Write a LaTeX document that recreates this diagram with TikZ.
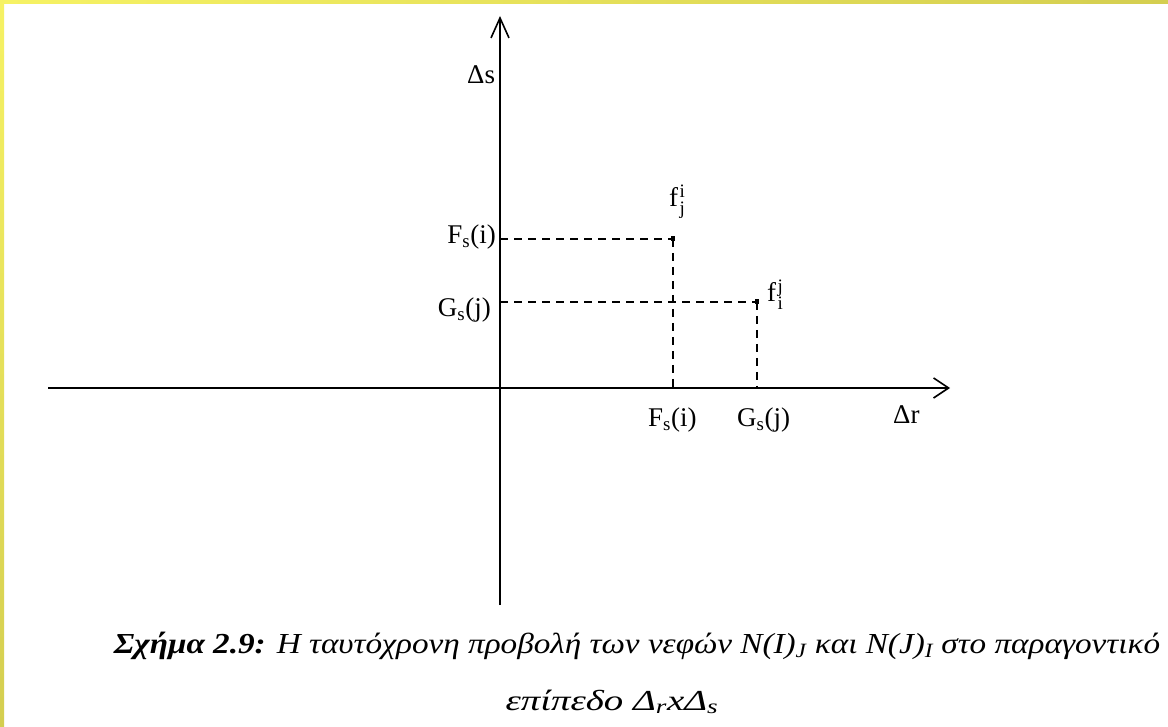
\documentclass[tikz,border=0pt]{standalone}
\usepackage{fontspec}
\setmainfont{Liberation Serif}
\usetikzlibrary{arrows.meta}
\definecolor{stripA}{RGB}{246,242,100}
\definecolor{stripB}{RGB}{212,206,80}
\newcommand{\supsub}[2]{\kern1.5pt\rlap{\raisebox{9pt}{\fontsize{19}{19}\selectfont #1}}\raisebox{-8pt}{\fontsize{19}{19}\selectfont #2}}
\begin{document}
\begin{tikzpicture}[x=1pt,y=-1pt,
  axisv/.style={line width=1.6pt,-{Straight Barb[length=20pt,width=18pt,line width=1.6pt]}},
  axish/.style={line width=1.6pt,-{Straight Barb[length=15pt,width=20pt,line width=1.6pt]}},
  proj/.style={line width=1.6pt,dash pattern=on 8pt off 6pt},
  lbl/.style={font=\fontsize{27}{30}\selectfont,inner sep=0pt},
  dot/.style={fill=black,inner sep=0pt,minimum width=3.5pt,minimum height=5pt,shape=rectangle},
  captxt/.style={font=\fontsize{29}{32}\selectfont\itshape,inner sep=0pt,anchor=base}]
\useasboundingbox (0,0) rectangle (1168,727);
\fill[white] (0,0) rectangle (1168,727);
\shade[left color=stripA,right color=stripB] (0,0) rectangle (1168,4);
\shade[top color=stripA,bottom color=stripB] (0,0) rectangle (4,727);
% axes
\coordinate (ytop) at (500,16);
\coordinate (ybot) at (500,605);
\coordinate (xl) at (48,388);
\coordinate (xr) at (950,388);
\draw[axisv] (ybot) -- (ytop);
\draw[axish] (xl) -- (xr);
% points and projections
\node[dot] (P1) at (673,239) {};
\node[dot] (P2) at (757,302) {};
\coordinate (P1y) at (500,239);
\coordinate (P1x) at (673,388);
\coordinate (P2y) at (500,302);
\coordinate (P2x) at (757,388);
\draw[proj] (P1y) -- (P1.center);
\draw[proj] (P1.center) -- (P1x);
\draw[proj] (P2y) -- (P2.center);
\draw[proj] (P2.center) -- (P2x);
% labels
\node[lbl,anchor=base west] (ds) at (467,84) {Δs};
\node[lbl,anchor=base west] (dr) at (893,423) {Δr};
\node[lbl,anchor=base east] (fsl) at (496,244) {F\textsubscript{s}(i)};
\node[lbl,anchor=base east] (gsl) at (491,317) {G\textsubscript{s}(j)};
\node[lbl,anchor=base west] (fsb) at (648,427) {F\textsubscript{s}(i)};
\node[lbl,anchor=base west] (gsb) at (737,427) {G\textsubscript{s}(j)};
\node[lbl,anchor=base west] (fji) at (669,207) {f\supsub{i}{j}};
\node[lbl,anchor=base west] (fij) at (767,302) {f\supsub{j}{i}};
% caption
\node[captxt] (c1) at (637,653) {\scalebox{1.145}[1]{\textbf{Σχήμα 2.9:} Η ταυτόχρονη προβολή των νεφών N(I)\textsubscript{J} και N(J)\textsubscript{I} στο παραγοντικό}};
\node[captxt] (c2) at (612,710) {\scalebox{1.34}[1]{επίπεδο Δ\textsubscript{r}xΔ\textsubscript{s}}};
\end{tikzpicture}
\end{document}
